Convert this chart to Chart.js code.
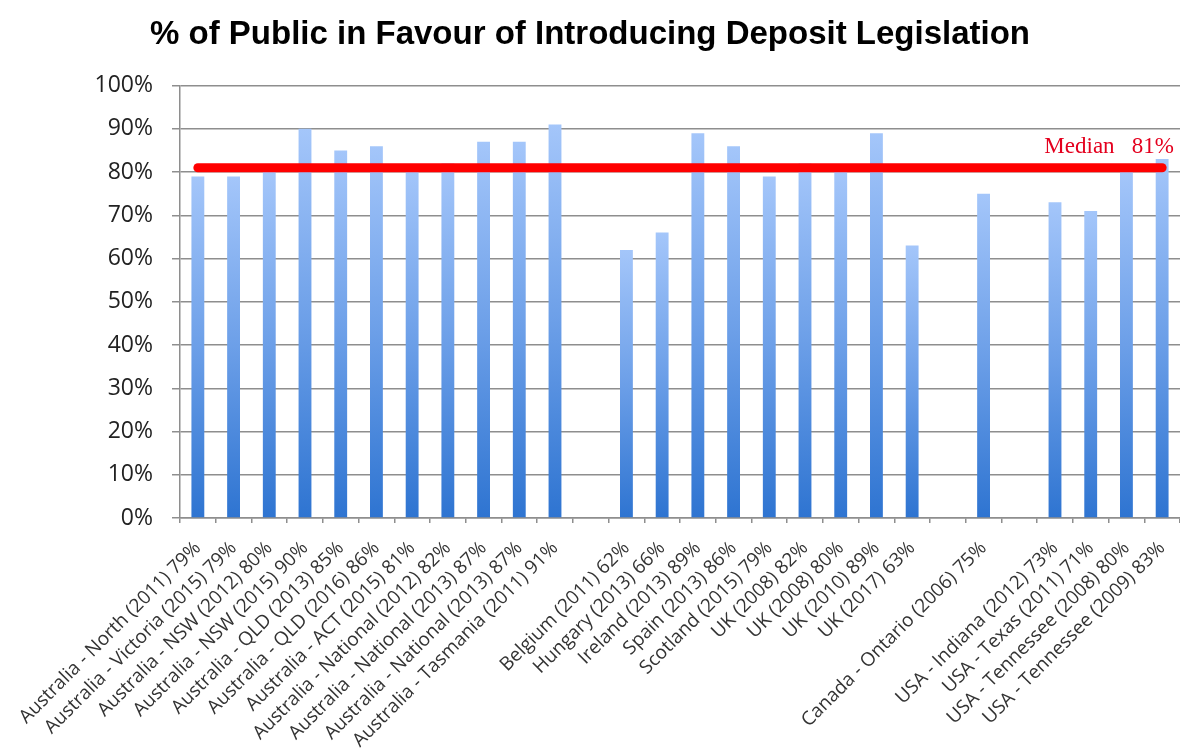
<!DOCTYPE html>
<html>
<head>
<meta charset="utf-8">
<script src="https://cdn.jsdelivr.net/npm/chart.js@4/dist/chart.umd.min.js"></script>
<style>
  html, body { margin: 0; padding: 0; background: #fff; }
  #wrap { width: 1180px; height: 755px; position: relative; }
</style>
</head>
<body>
<div id="wrap"><canvas id="c" width="1180" height="755"></canvas></div>
<script>
const TITLE = '% of Public in Favour of Introducing Deposit Legislation';
const categories = [
  'Australia - North (2011) 79%',
  'Australia - Victoria (2015) 79%',
  'Australia - NSW (2012) 80%',
  'Australia - NSW (2015) 90%',
  'Australia - QLD (2013) 85%',
  'Australia - QLD (2016) 86%',
  'Australia - ACT (2015) 81%',
  'Australia - National (2012) 82%',
  'Australia - National (2013) 87%',
  'Australia - National (2013) 87%',
  'Australia - Tasmania (2011) 91%',
  '',
  'Belgium (2011) 62%',
  'Hungary (2013) 66%',
  'Ireland (2013) 89%',
  'Spain (2013) 86%',
  'Scotland (2015) 79%',
  'UK (2008) 82%',
  'UK (2008) 80%',
  'UK (2010) 89%',
  'UK (2017) 63%',
  '',
  'Canada - Ontario (2006) 75%',
  '',
  'USA - Indiana (2012) 73%',
  'USA - Texas (2011) 71%',
  'USA - Tennessee (2008) 80%',
  'USA - Tennessee (2009) 83%'
];
const values = [79, 79, 80, 90, 85, 86, 81, 82, 87, 87, 91, null,
                62, 66, 89, 86, 79, 82, 80, 89, 63, null,
                75, null,
                73, 71, 80, 83];
const yTicks = [0, 10, 20, 30, 40, 50, 60, 70, 80, 90, 100];
const MEDIAN = 81;
const MEDIAN_LABEL = 'Median   81%';

const medianPlugin = {
  id: 'median',
  afterDatasetsDraw(chart) {
    const { ctx, scales, chartArea } = chart;
    const x0 = scales.x.getPixelForValue(0);
    const x1 = scales.x.getPixelForValue(categories.length - 1);
    const y = scales.y.getPixelForValue(MEDIAN);
    ctx.save();
    ctx.strokeStyle = '#ff0000';
    ctx.lineWidth = 9;
    ctx.lineCap = 'round';
    ctx.beginPath();
    ctx.moveTo(x0, y);
    ctx.lineTo(x1, y);
    ctx.stroke();
    ctx.fillStyle = '#e4001e';
    ctx.font = '23px "Liberation Serif", "DejaVu Serif", serif';
    ctx.textAlign = 'right';
    ctx.textBaseline = 'alphabetic';
    ctx.fillText(MEDIAN_LABEL, chartArea.right - 6, y - 15);
    ctx.restore();
  }
};

const ctxEl = document.getElementById('c');
new Chart(ctxEl, {
  type: 'bar',
  data: {
    labels: categories,
    datasets: [{
      data: values,
      barPercentage: 0.36,
      categoryPercentage: 1.0,
      backgroundColor: (c) => {
        const chart = c.chart;
        if (!chart.chartArea || c.raw == null) return '#6a9fe6';
        const y = chart.scales.y;
        const top = y.getPixelForValue(c.raw);
        const bottom = y.getPixelForValue(0);
        const g = chart.ctx.createLinearGradient(0, top, 0, bottom);
        g.addColorStop(0, '#a4c6fa');
        g.addColorStop(0.5, '#6c9fe8');
        g.addColorStop(1, '#2e74d1');
        return g;
      },
      borderWidth: 0
    }]
  },
  options: {
    responsive: false,
    animation: false,
    devicePixelRatio: 1,
    layout: { padding: { left: 0, right: 0, top: 0, bottom: 0 } },
    plugins: {
      legend: { display: false },
      tooltip: { enabled: false },
      title: {
        display: true,
        text: TITLE,
        color: '#000',
        font: { family: '"Liberation Sans", Arial, sans-serif', size: 33, weight: 'bold' },
        padding: { top: 15, bottom: 31 }
      }
    },
    scales: {
      y: {
        min: 0,
        max: 100,
        afterFit: (s) => { s.width = 180; s.paddingTop = 0; s.paddingBottom = 0; },
        afterBuildTicks: (s) => { s.ticks = yTicks.map(v => ({ value: v })); },
        ticks: {
          callback: (v) => v + '%',
          color: '#222',
          font: { family: '"Open Sans", sans-serif', size: 23 },
          padding: 19
        },
        grid: { color: '#8e8e8e', lineWidth: 1.5, tickLength: 8 },
        border: { color: '#8e8e8e', width: 1.5 }
      },
      x: {
        afterFit: (s) => { s.height = 237; s.paddingLeft = 0; s.paddingRight = 0; },
        ticks: {
          autoSkip: false,
          minRotation: 45,
          maxRotation: 45,
          color: '#333',
          font: { family: '"Open Sans", sans-serif', size: 19 },
          padding: 14
        },
        grid: { drawOnChartArea: false, offset: true, color: '#8e8e8e', lineWidth: 1.5, tickLength: 5 },
        border: { color: '#8e8e8e', width: 1.5 }
      }
    }
  },
  plugins: [medianPlugin]
});
</script>
</body>
</html>
